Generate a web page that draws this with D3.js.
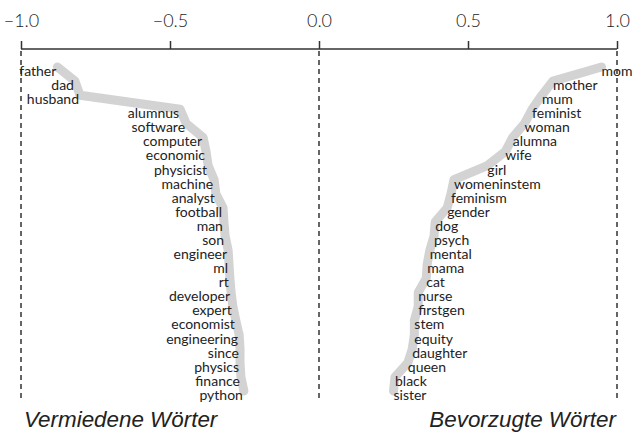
<!DOCTYPE html>
<head>
    <meta charset="UTF-8">
    <title>Wörter</title>
    <style>
        body { margin: 0; background: #fff; }
        text { font-family: Lato, "Open Sans", sans-serif; fill: #222; }
    </style>
</head>
<body>
    <script src="https://d3js.org/d3.v7.min.js"></script>
    <script>
        // vermiedene Wörter (links)
        let leftWords = ["father", "dad", "husband", "alumnus", "software", "computer", "economic", "physicist",
            "machine", "analyst", "football", "man", "son", "engineer", "ml", "rt", "developer", "expert",
            "economist", "engineering", "since", "physics", "finance", "python"]
        let leftValues = [-0.878, -0.819, -0.802, -0.466, -0.446, -0.389, -0.379, -0.372,
            -0.352, -0.346, -0.322, -0.319, -0.315, -0.305, -0.302, -0.299, -0.295, -0.289,
            -0.279, -0.268, -0.265, -0.265, -0.262, -0.252]

        // bevorzugte Wörter (rechts)
        let rightWords = ["mom", "mother", "mum", "feminist", "woman", "alumna", "wife", "girl",
            "womeninstem", "feminism", "gender", "dog", "psych", "mental", "mama", "cat", "nurse",
            "firstgen", "stem", "equity", "daughter", "queen", "black", "sister"]
        let rightValues = [0.948, 0.785, 0.748, 0.715, 0.69, 0.65, 0.625, 0.565,
            0.453, 0.443, 0.43, 0.39, 0.386, 0.372, 0.363, 0.36, 0.333,
            0.333, 0.32, 0.32, 0.313, 0.298, 0.255, 0.25]

        let tickValues = [-1, -0.5, 0, 0.5, 1]

        var width = 634
        var height = 433
        var axisY = 49

        var svg = d3.select("body")
            .append("svg")
            .attr("width", width)
            .attr("height", height)

        var x = d3.scaleLinear().domain([-1, 1]).range([21, 617])
        var y = d3.scaleLinear().domain([0, 23]).range([71, 395])

        // gestrichelte Linien
        svg.selectAll(".guide")
            .data(tickValues.filter(d => d !== 0.5 && d !== -0.5))
            .enter()
            .append("line")
            .attr("x1", d => x(d)).attr("x2", d => x(d))
            .attr("y1", axisY + 2).attr("y2", 400)
            .attr("stroke", "#333")
            .attr("stroke-width", 1.5)
            .attr("stroke-dasharray", "5,4")

        // Achse oben
        var axis = d3.axisTop(x)
            .tickValues(tickValues)
            .tickSize(8)
            .tickPadding(14)
            .tickFormat(d3.format(".1f"))
        var g = svg.append("g")
            .attr("transform", "translate(0," + axisY + ")")
            .call(axis)
        g.select(".domain").attr("stroke", "#333").attr("stroke-width", 1.5).attr("d", "M" + x(-1) + ",0H" + x(1))
        g.selectAll(".tick line").attr("stroke", "#333").attr("stroke-width", 1.5)
        g.selectAll(".tick text")
            .style("font-size", "18px")
            .style("font-weight", 300)
            .attr("fill", "#222")
            .text(d => d3.format(".1f")(d).replace("-", "\u2212"))

        function side(words, values, anchor, dx) {
            var data = words.map((w, i) => ({ w: w, v: values[i], i: i }))
            var line = d3.line()
                .x(d => x(d.v))
                .y(d => y(d.i) - 4)
            svg.append("path")
                .datum(data)
                .attr("d", line)
                .attr("fill", "none")
                .attr("stroke", "#d3d3d3")
                .attr("stroke-width", 9)
                .attr("stroke-linecap", "round")
                .attr("stroke-linejoin", "round")
            svg.append("g").selectAll("text")
                .data(data)
                .enter()
                .append("text")
                .attr("x", d => x(d.v) + dx)
                .attr("y", d => y(d.i))
                .attr("dy", "0.35em")
                .attr("text-anchor", anchor)
                .style("font-size", "14px")
                .text(d => d.w)
        }
        side(leftWords, leftValues, "end", -1)
        side(rightWords, rightValues, "start", 0)

        // Beschriftung unten
        svg.append("text")
            .attr("x", 24).attr("y", 427)
            .style("font-family", "'Liberation Sans', Arial, sans-serif")
            .style("font-size", "22.4px").style("font-style", "italic")
            .attr("fill", "#333")
            .text("Vermiedene Wörter")
        svg.append("text")
            .attr("x", 616).attr("y", 427)
            .attr("text-anchor", "end")
            .style("font-family", "'Liberation Sans', Arial, sans-serif")
            .style("font-size", "22.4px").style("font-style", "italic")
            .attr("fill", "#333")
            .text("Bevorzugte Wörter")
    </script>
</body>
</html>
